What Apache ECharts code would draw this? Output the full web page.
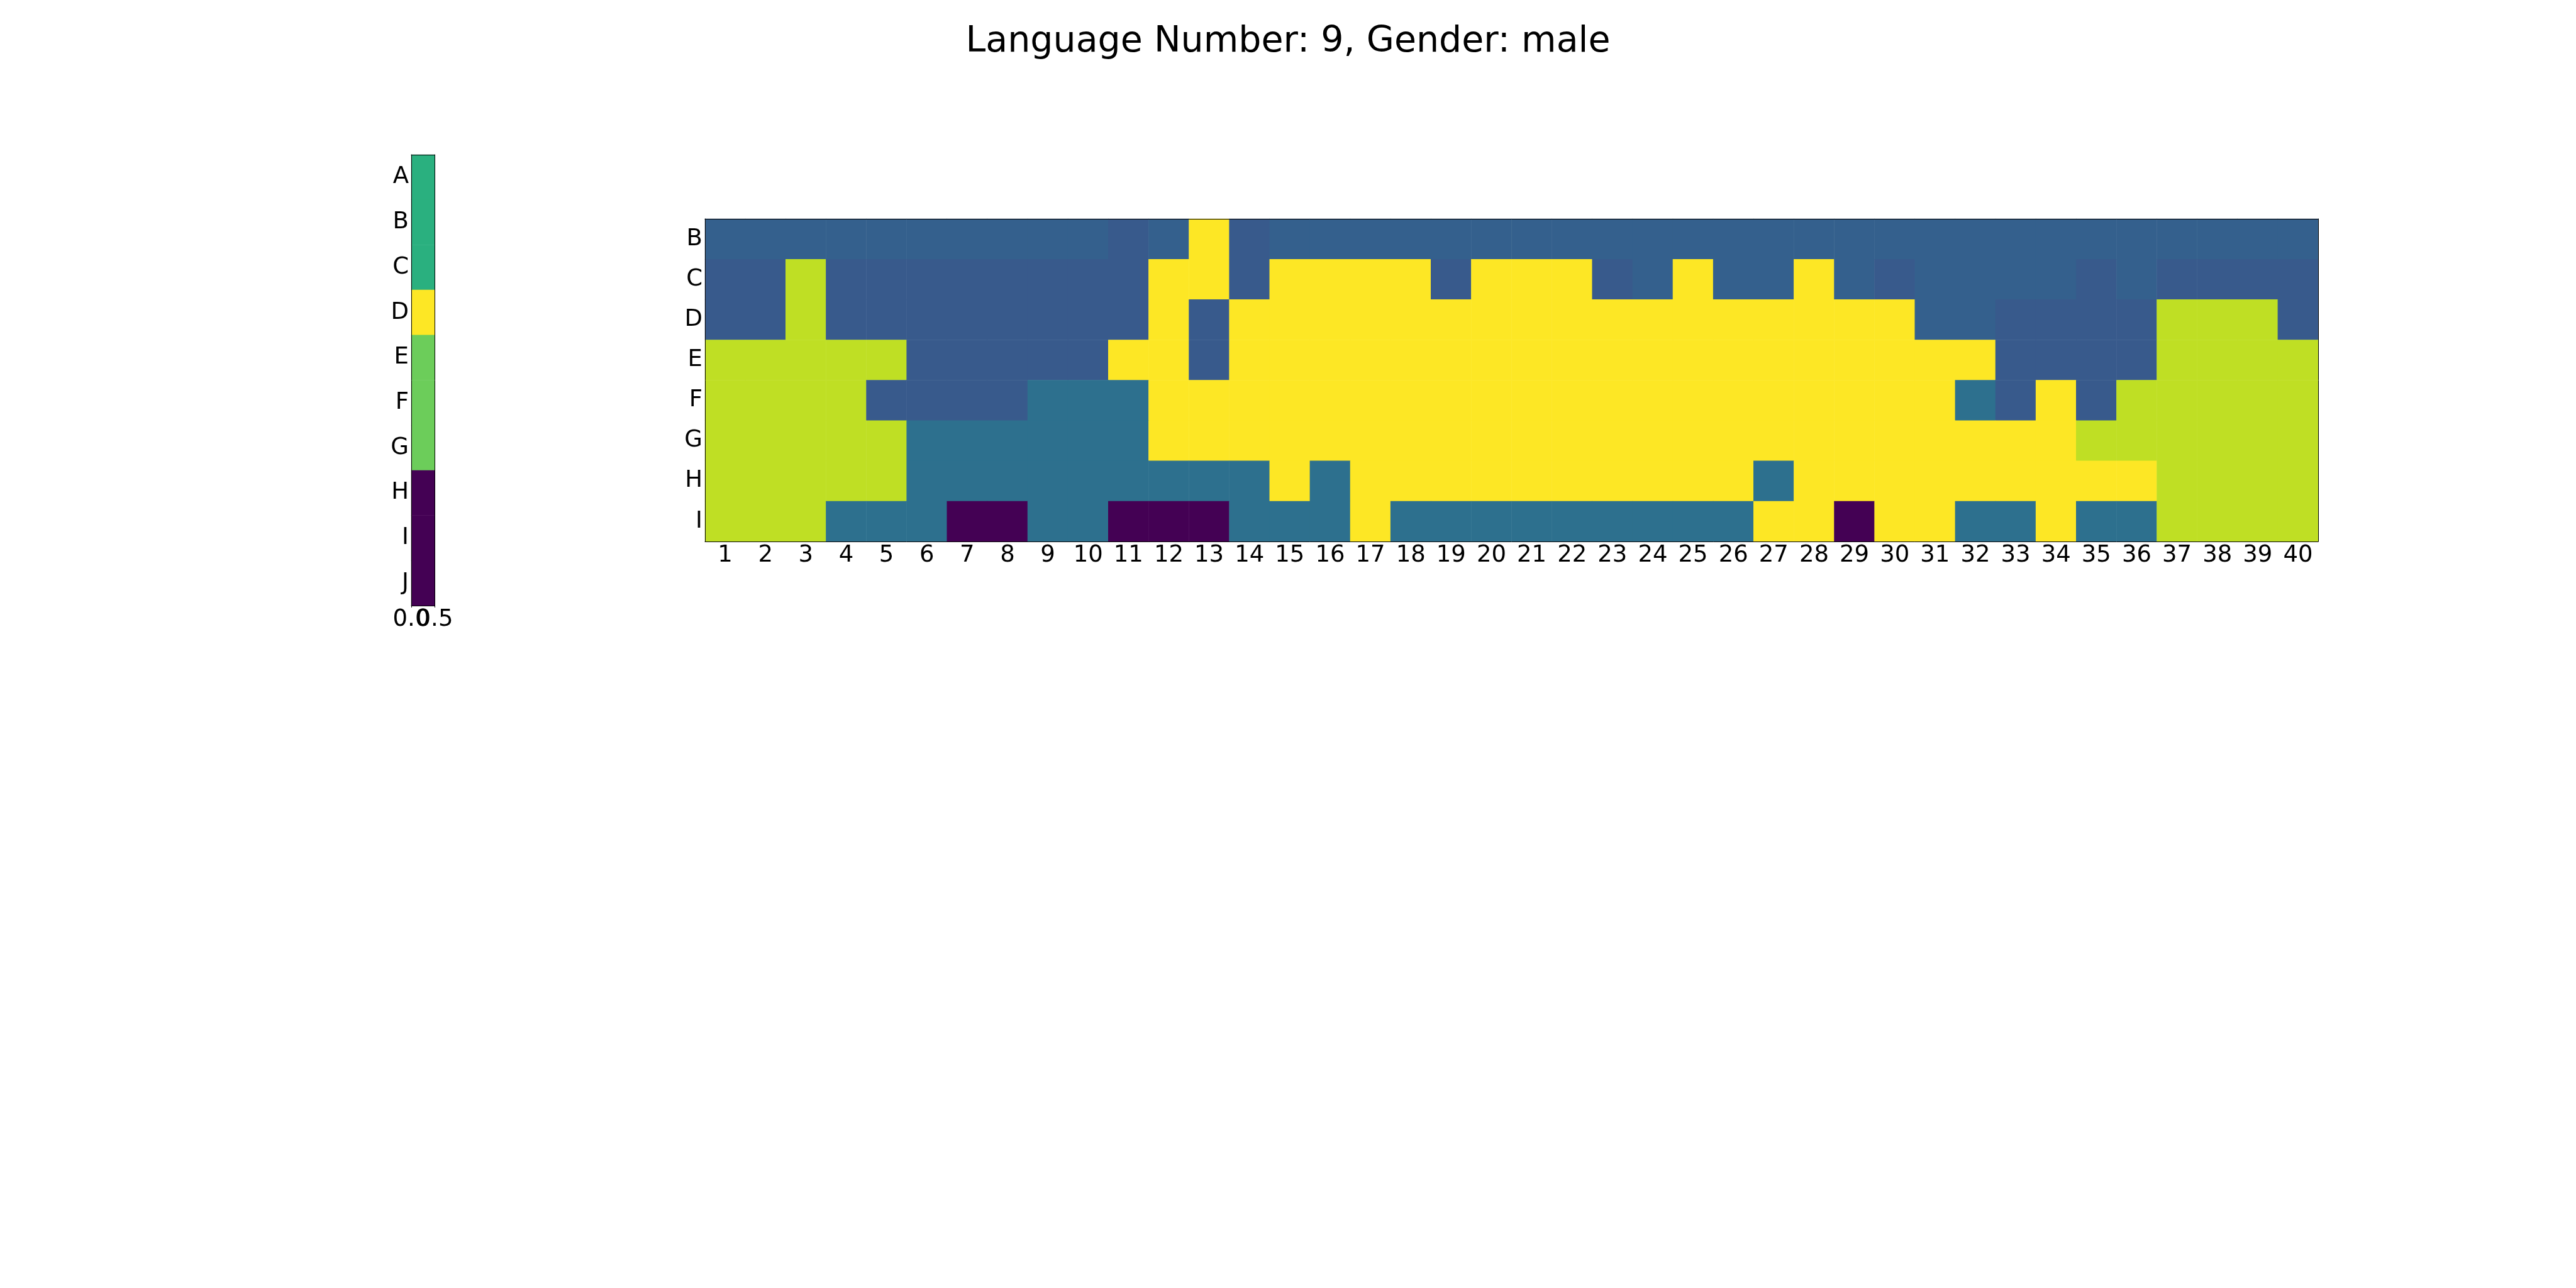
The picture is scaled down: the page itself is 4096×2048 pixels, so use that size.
<!DOCTYPE html>
<html>
<head>
<meta charset="utf-8">
<script src="https://cdn.jsdelivr.net/npm/echarts@6/dist/echarts.min.js"></script>
<style>
html,body{margin:0;padding:0;background:#fff;}
#chart{width:4096px;height:2048px;}
</style>
</head>
<body>
<div id="chart"></div>
<script>
// ---- data ----
const titleText = 'Language Number: 9, Gender: male';
const columns = ['1','2','3','4','5','6','7','8','9','10','11','12','13','14','15','16','17','18','19','20',
                 '21','22','23','24','25','26','27','28','29','30','31','32','33','34','35','36','37','38','39','40'];
const rowLabels = ['B','C','D','E','F','G','H','I'];
// codes: 0 purple, 1 blue (dark), 2 blue (light), 3 teal, 4 yellow-green, 5 yellow
const rowB = [2,2,2,2,2,2,2,2,2,2, 1,2,5,1,2, 2,2,2,2,2, 2,2,2,2,2, 2,2,2,2,2, 2,2,2,2,2, 2,2,2,2,2];
const rowC = [1,1,4,1,1,1,1,1,1,1, 1,5,5,1,5, 5,5,5,1,5, 5,5,1,2,5, 2,2,5,2,1, 2,2,2,2,1, 2,1,1,1,1];
const rowD = [1,1,4,1,1,1,1,1,1,1, 1,5,1,5,5, 5,5,5,5,5, 5,5,5,5,5, 5,5,5,5,5, 2,2,1,1,1, 1,4,4,4,1];
const rowE = [4,4,4,4,4,1,1,1,1,1, 5,5,1,5,5, 5,5,5,5,5, 5,5,5,5,5, 5,5,5,5,5, 5,5,1,1,1, 1,4,4,4,4];
const rowF = [4,4,4,4,1,1,1,1,3,3, 3,5,5,5,5, 5,5,5,5,5, 5,5,5,5,5, 5,5,5,5,5, 5,3,1,5,1, 4,4,4,4,4];
const rowG = [4,4,4,4,4,3,3,3,3,3, 3,5,5,5,5, 5,5,5,5,5, 5,5,5,5,5, 5,5,5,5,5, 5,5,5,5,4, 4,4,4,4,4];
const rowH = [4,4,4,4,4,3,3,3,3,3, 3,3,3,3,5, 3,5,5,5,5, 5,5,5,5,5, 5,3,5,5,5, 5,5,5,5,5, 5,4,4,4,4];
const rowI = [4,4,4,3,3,3,0,0,3,3, 0,0,0,3,3, 3,5,3,3,3, 3,3,3,3,3, 3,5,5,0,5, 5,3,3,5,3, 3,4,4,4,4];
const gridRows = [rowB,rowC,rowD,rowE,rowF,rowG,rowH,rowI];

const barLabels = ['A','B','C','D','E','F','G','H','I','J'];
// codes: 0 purple, 1 green, 2 light green, 3 yellow
const barValues = [1,1,1,3,2,2,2,0,0,0];
const barRange = [0, 0.5];

// ---- styles ----
const cellColors = ['#440154','#385a8c','#34608d','#2d708e','#bfdf24','#fde725'];
const barColors = ['#440154','#2ab07f','#6ccd5a','#fde725'];
const FONT = 'DejaVu Sans';

const heatData = [];
gridRows.forEach((row, r) => row.forEach((v, c) => heatData.push([c, r, v])));
const barData = barValues.map((v, r) => [0, r, v]);

const lineOnly = {
  axisLine: {show: true, lineStyle: {color: '#000', width: 1}},
  axisTick: {show: false}, axisLabel: {show: false}, splitLine: {show: false}, z: 10
};
const labelStyle = {color: '#000', fontSize: 37, fontFamily: FONT, margin: 4};
const yLabelStyle = Object.assign({interval: 0, padding: [7, 0, 0, 0]}, labelStyle);

const chart = echarts.init(document.getElementById('chart'), null, {renderer: 'canvas'});
chart.setOption({
  backgroundColor: '#fff',
  animation: false,
  title: {
    text: titleText, left: 'center', top: 34,
    textStyle: {fontSize: 57, fontWeight: 'normal', color: '#000', fontFamily: FONT}
  },
  grid: [
    {left: 1121, top: 348, width: 2565, height: 513},
    {left: 654, top: 246, width: 37, height: 717}
  ],
  xAxis: [
    {type: 'category', gridIndex: 0, data: columns, position: 'bottom', z: 10,
     axisLine: {lineStyle: {color: '#000', width: 1}},
     axisTick: {alignWithLabel: true, length: 3, lineStyle: {color: '#000'}},
     axisLabel: Object.assign({interval: 0}, labelStyle),
     splitLine: {show: false}, splitArea: {show: false}},
    Object.assign({type: 'category', gridIndex: 0, data: columns, position: 'top'}, lineOnly),
    {type: 'category', gridIndex: 1, data: ['c'], position: 'bottom', z: 10,
     axisLine: {lineStyle: {color: '#000', width: 1}},
     axisTick: {show: false}, axisLabel: {show: false}, splitLine: {show: false}},
    {type: 'category', gridIndex: 1, position: 'bottom', boundaryGap: false, z: 10,
     data: barRange.map(v => v.toFixed(1)),
     axisLine: {show: false},
     axisTick: {show: true, length: 3, interval: 0, lineStyle: {color: '#000'}},
     axisLabel: Object.assign({interval: 0}, labelStyle),
     splitLine: {show: false}},
    Object.assign({type: 'category', gridIndex: 1, data: ['c'], position: 'top'}, lineOnly)
  ],
  yAxis: [
    {type: 'category', gridIndex: 0, data: rowLabels, inverse: true, position: 'left', z: 10,
     axisLine: {lineStyle: {color: '#000', width: 1}},
     axisTick: {alignWithLabel: true, length: 3, lineStyle: {color: '#000'}},
     axisLabel: yLabelStyle,
     splitLine: {show: false}, splitArea: {show: false}},
    Object.assign({type: 'category', gridIndex: 0, data: rowLabels, inverse: true, position: 'right'}, lineOnly),
    {type: 'category', gridIndex: 1, data: barLabels, inverse: true, position: 'left', z: 10,
     axisLine: {lineStyle: {color: '#000', width: 1}},
     axisTick: {alignWithLabel: true, length: 3, lineStyle: {color: '#000'}},
     axisLabel: yLabelStyle,
     splitLine: {show: false}, splitArea: {show: false}},
    Object.assign({type: 'category', gridIndex: 1, data: barLabels, inverse: true, position: 'right'}, lineOnly)
  ],
  visualMap: [
    {type: 'piecewise', show: false, seriesIndex: 0, dimension: 2,
     pieces: cellColors.map((c, i) => ({value: i, color: c}))},
    {type: 'piecewise', show: false, seriesIndex: 1, dimension: 2,
     pieces: barColors.map((c, i) => ({value: i, color: c}))}
  ],
  series: [
    {type: 'heatmap', xAxisIndex: 0, yAxisIndex: 0, data: heatData,
     emphasis: {disabled: true}, progressive: 0},
    {type: 'heatmap', xAxisIndex: 2, yAxisIndex: 2, data: barData,
     emphasis: {disabled: true}, progressive: 0}
  ]
});
</script>
</body>
</html>
